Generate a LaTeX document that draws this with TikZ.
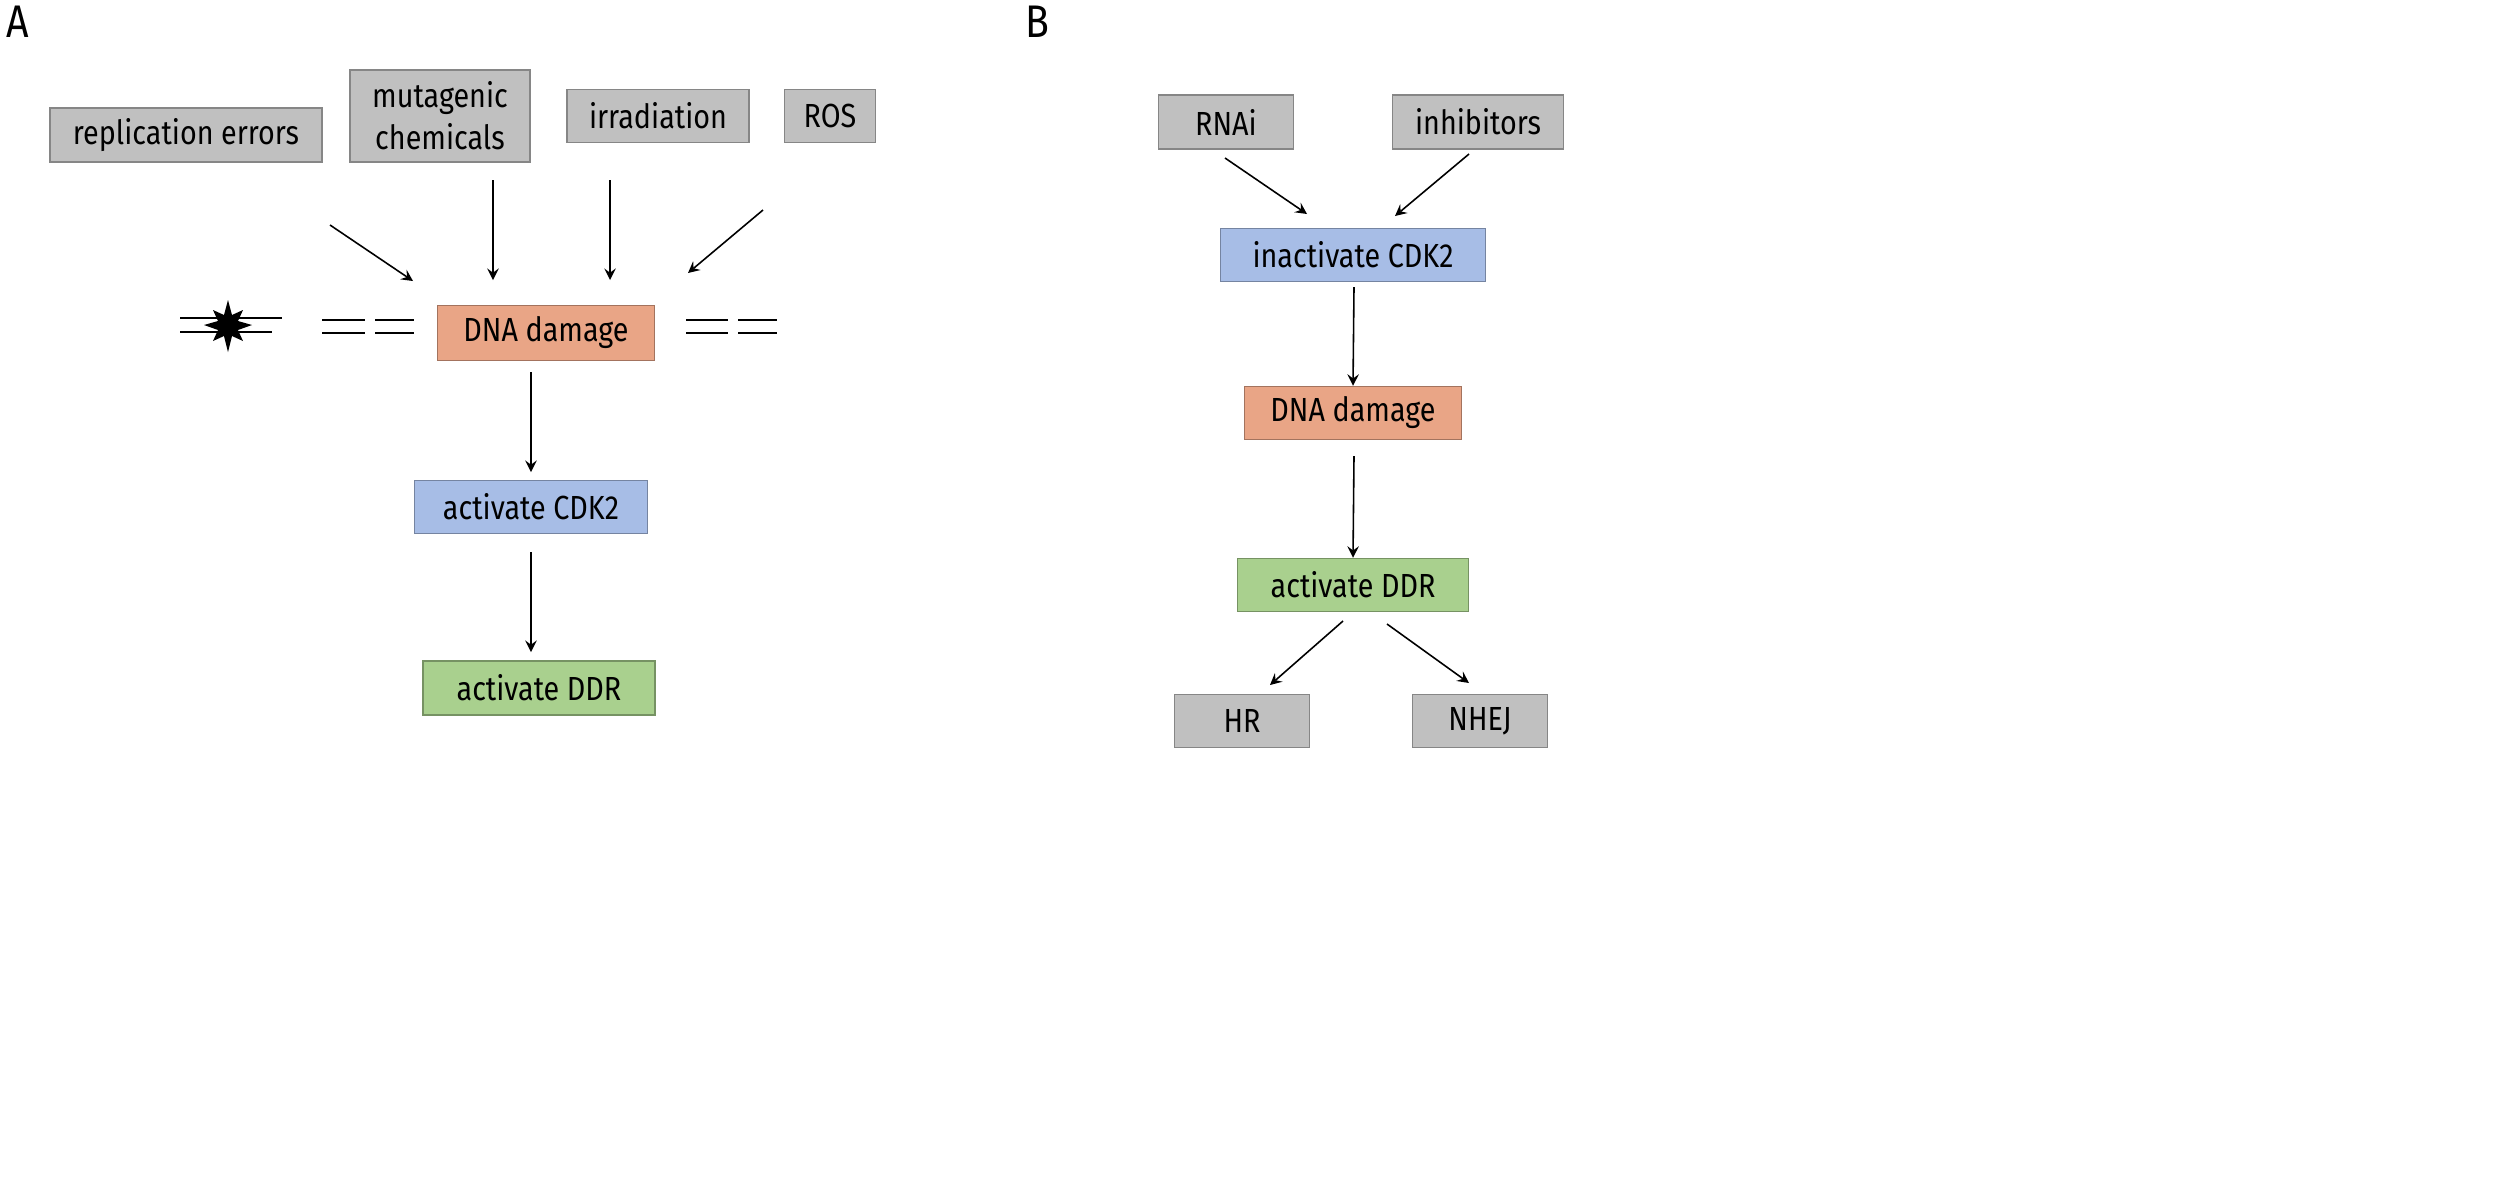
\documentclass[tikz,border=0pt]{standalone}
\usepackage{fontspec}
\setmainfont{Fira Sans}[FakeStretch=0.86]
\definecolor{boxgray}{HTML}{C0C0C0}
\definecolor{boxorange}{HTML}{E9A586}
\definecolor{boxblue}{HTML}{A7BDE6}
\definecolor{boxgreen}{HTML}{A9D08E}
\tikzset{
	box/.style={draw=#1!70!black,fill=#1,line width=0.4pt,inner sep=0pt,align=center,font=\fontsize{9.5}{12}\selectfont},
	arr/.style={-stealth,line width=0.45pt},
	strand/.style={line width=0.8pt}
}
\begin{document}
\begin{tikzpicture}[x=0.01cm,y=-0.01cm,line cap=butt]
			\useasboundingbox (0,0) rectangle (2506,1202);
			\node[font=\fontsize{13}{13}\selectfont] (la) at (18,22) {A};
			\node[font=\fontsize{13}{13}\selectfont] (lb) at (1037,22) {B};
			% panel A
			\node[box=boxgray,minimum width=2.72cm,minimum height=0.54cm] (rep) at (186,135) {replication errors};
			\node[box=boxgray,minimum width=1.80cm,minimum height=0.92cm] (mut) at (440,116) {mutagenic\\chemicals};
			\node[box=boxgray,minimum width=1.82cm,minimum height=0.53cm] (irr) at (658,116) {irradiation};
			\node[box=boxgray,minimum width=0.91cm,minimum height=0.53cm] (ros) at (830,116) {ROS};
			\node[box=boxorange,minimum width=2.17cm,minimum height=0.55cm] (dnaA) at (546,333) {DNA damage};
			\node[box=boxblue,minimum width=2.33cm,minimum height=0.53cm] (cdkA) at (531,507) {activate CDK2};
			\node[box=boxgreen,minimum width=2.32cm,minimum height=0.54cm] (ddrA) at (539,688) {activate DDR};
			\coordinate (rep1) at (330,225); \coordinate (rep2) at (413,281);
			\coordinate (mut1) at (493,180); \coordinate (mut2) at (493,280);
			\coordinate (irr1) at (610,180); \coordinate (irr2) at (610,280);
			\coordinate (ros1) at (763,210); \coordinate (ros2) at (688,273);
			\coordinate (d1) at (531,372); \coordinate (d2) at (531,472);
			\coordinate (c1) at (531,552); \coordinate (c2) at (531,652);
			\draw[arr] (rep1) -- (rep2);
			\draw[arr] (mut1) -- (mut2);
			\draw[arr] (irr1) -- (irr2);
			\draw[arr] (ros1) -- (ros2);
			\draw[arr] (d1) -- (d2);
			\draw[arr] (c1) -- (c2);
			% broken strands
			\draw[strand] (180,318) -- (282,318) (180,332) -- (272,332);
			\fill (228,300) -- (232,315) -- (243,310) -- (238,321) -- (252,325) -- (238,330) -- (243,341) -- (232,336) -- (228,352) -- (224,336) -- (213,341) -- (218,330) -- (204,325) -- (218,321) -- (213,310) -- (224,315) -- cycle;
			\draw[strand] (322,320) -- (365,320) (375,320) -- (414,320) (322,333) -- (365,333) (375,333) -- (414,333);
			\draw[strand] (686,320) -- (728,320) (738,320) -- (777,320) (686,333) -- (728,333) (738,333) -- (777,333);
			% panel B
			\node[box=boxgray,minimum width=1.35cm,minimum height=0.54cm] (rnai) at (1226,122) {RNAi};
			\node[box=boxgray,minimum width=1.71cm,minimum height=0.54cm] (inh) at (1478,122) {inhibitors};
			\node[box=boxblue,minimum width=2.65cm,minimum height=0.53cm] (cdkB) at (1353,255) {inactivate CDK2};
			\node[box=boxorange,minimum width=2.17cm,minimum height=0.53cm] (dnaB) at (1353,413) {DNA damage};
			\node[box=boxgreen,minimum width=2.31cm,minimum height=0.53cm] (ddrB) at (1353,585) {activate DDR};
			\node[box=boxgray,minimum width=1.35cm,minimum height=0.53cm] (hr) at (1242,721) {HR};
			\node[box=boxgray,minimum width=1.35cm,minimum height=0.53cm] (nhej) at (1480,721) {NHEJ};
			\coordinate (rn1) at (1225,158); \coordinate (rn2) at (1307,214);
			\coordinate (in1) at (1469,154); \coordinate (in2) at (1395,216);
			\coordinate (b1) at (1354,287); \coordinate (b2) at (1354,456);
			\coordinate (hr1) at (1343,621); \coordinate (hr2) at (1270,685);
			\coordinate (nh1) at (1387,624); \coordinate (nh2) at (1469,683);
			\draw[arr] (rn1) -- (rn2);
			\draw[arr] (in1) -- (in2);
			\draw[arr] (b1) -- (dnaB.north);
			\draw[arr] (b2) -- (ddrB.north);
			\draw[arr] (hr1) -- (hr2);
			\draw[arr] (nh1) -- (nh2);
		\end{tikzpicture}
\end{document}
